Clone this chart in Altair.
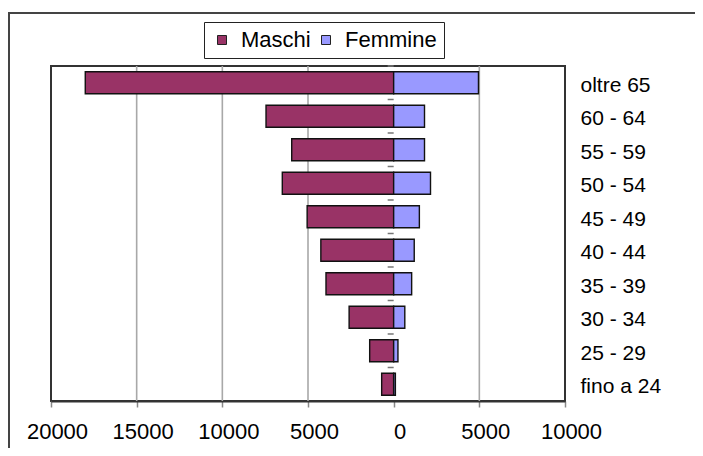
import altair as alt
import pandas as pd

# Age classes, top to bottom as drawn
eta = ["oltre 65", "60 - 64", "55 - 59", "50 - 54", "45 - 49",
       "40 - 44", "35 - 39", "30 - 34", "25 - 29", "fino a 24"]
maschi = [18000, 7450, 5950, 6500, 5050, 4250, 3950, 2600, 1400, 700]
femmine = [4950, 1800, 1800, 2150, 1500, 1200, 1050, 650, 250, 100]
serie = ["Maschi", "Femmine"]
colori = ["#993366", "#9999FF"]
x_ticks = [-20000, -15000, -10000, -5000, 0, 5000, 10000]
grid_vals = [-15000, -10000, -5000, 5000]

rows = []
for e, m, f in zip(eta, maschi, femmine):
    rows.append({"eta": e, "sesso": "Maschi", "valore": -m})
    rows.append({"eta": e, "sesso": "Femmine", "valore": f})
df = pd.DataFrame(rows)

FONT = "Liberation Sans"

y_scale = alt.Scale(domain=eta, paddingInner=0.34, paddingOuter=0.17)
x_scale = alt.Scale(domain=[-20000, 10000], nice=False, zero=False)

x_axis = alt.Axis(
    values=x_ticks, labelExpr="format(abs(datum.value), 'd')",
    grid=False, domainColor="#333333", domainWidth=2,
    tickColor="#888888", tickSize=6, tickWidth=1.5,
    labelFont=FONT, labelFontSize=22, labelColor="#000000",
    labelPadding=14, labelOffset=6, labelFlush=False,
)
y_axis = alt.Axis(
    orient="right", ticks=False, domain=False,
    labelFont=FONT, labelFontSize=21, labelColor="#000000",
    labelPadding=15, labelAlign="left", labelBaseline="middle",
    labelOffset=3,
)

frame = alt.Chart(pd.DataFrame({"d": [0]})).mark_rect(
    fill="transparent", stroke="#444444", strokeWidth=2
).encode(
    x=alt.value(-42), x2=alt.value(700), y=alt.value(-53), y2=alt.value(500)
)

grid = alt.Chart(pd.DataFrame({"g": grid_vals})).mark_rule(
    color="#a8a8a8", strokeWidth=1.6
).encode(x=alt.X("g:Q", scale=x_scale, title=None, axis=x_axis))

bars = alt.Chart(df).mark_bar(stroke="#111111", strokeWidth=1.4).encode(
    x=alt.X("valore:Q", scale=x_scale, stack=None, title=None, axis=x_axis),
    y=alt.Y("eta:N", scale=y_scale, sort=eta, title=None, axis=y_axis),
    color=alt.Color(
        "sesso:N",
        scale=alt.Scale(domain=serie, range=colori),
        legend=alt.Legend(
            title=None, orient="none", legendX=153, legendY=-44,
            direction="horizontal", strokeColor="#222222", padding=7,
            symbolType="square", symbolSize=81, symbolStrokeColor="#222222",
            symbolStrokeWidth=1, labelFont=FONT, labelFontSize=22,
            labelColor="#000000", labelOffset=8, columnPadding=4,
        ),
    ),
)

zero_ticks = alt.Chart(pd.DataFrame({"eta": eta})).mark_rule(
    color="#777777", strokeWidth=1.5, yOffset=-5.7
).encode(
    x=alt.datum(-350, scale=x_scale),
    x2=alt.datum(0),
    y=alt.Y("eta:N", scale=y_scale, sort=eta, title=None, axis=y_axis,
            bandPosition=0),
)

chart = alt.layer(frame, grid, bars, zero_ticks).properties(
    width=514, height=335,
    autosize=alt.AutoSizeParams(type="none"),
    padding={"left": 43, "top": 58, "right": 130, "bottom": 47},
    background="white",
).configure_view(stroke="#333333", strokeWidth=2)

chart.save("out.html", embed_options={"renderer": "svg", "actions": False})
